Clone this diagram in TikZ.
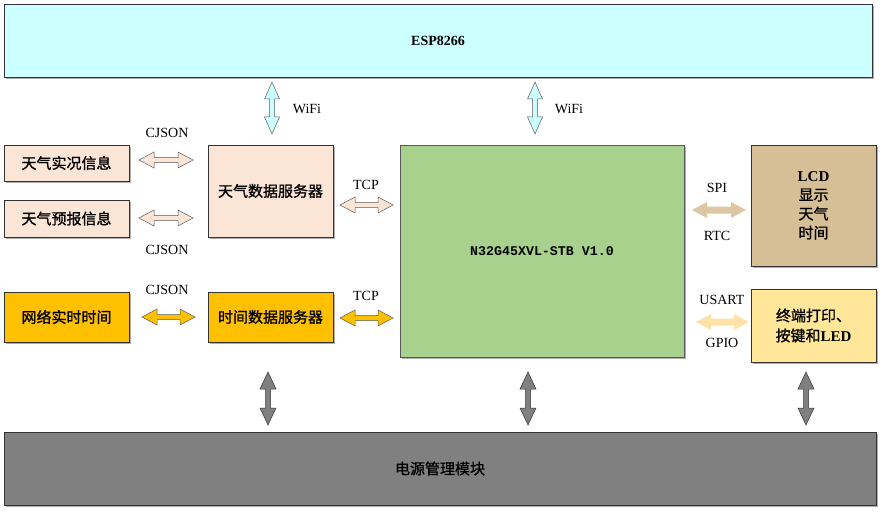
\documentclass[tikz,border=0pt]{standalone}
\usepackage{fontspec}
\setmainfont{Liberation Serif}
\setmonofont{Liberation Mono}
\newfontfamily\cjk[FakeBold=1.2]{Noto Sans CJK SC}
\usetikzlibrary{shadows}
\definecolor{cyanbox}{HTML}{CCFFFF}
\definecolor{peach}{HTML}{FBE5D6}
\definecolor{orangebox}{HTML}{FFC000}
\definecolor{greenbox}{HTML}{A9D18E}
\definecolor{tanbox}{HTML}{D6BE97}
\definecolor{yellowbox}{HTML}{FFE699}
\definecolor{graybox}{HTML}{808080}
\definecolor{spiarrow}{HTML}{DCC7A2}
\definecolor{usartarrow}{HTML}{FFE2A8}
\definecolor{edgegray}{HTML}{595959}
\newcommand\HArrow[6]{% style, x1, x2, y, half width, shaft half width
  \path[#1] (#2,#4) -- (#2+15,#4-#5) -- (#2+15,#4-#6) -- (#3-15,#4-#6) -- (#3-15,#4-#5) -- (#3,#4)
    -- (#3-15,#4+#5) -- (#3-15,#4+#6) -- (#2+15,#4+#6) -- (#2+15,#4+#5) -- cycle;}
\newcommand\VArrow[6]{% style, y1, y2, x, half width, shaft half width
  \path[#1] (#4,#2) -- (#4-#5,#2+17) -- (#4-#6,#2+17) -- (#4-#6,#3-17) -- (#4-#5,#3-17) -- (#4,#3)
    -- (#4+#5,#3-17) -- (#4+#6,#3-17) -- (#4+#6,#2+17) -- (#4+#5,#2+17) -- cycle;}
\begin{document}
\begin{tikzpicture}[x=1pt,y=-1pt,
  box/.style={draw=black!80, line width=0.6pt, inner sep=0pt, align=center,
    drop shadow={shadow xshift=1.8pt, shadow yshift=-1.8pt, fill=black!45, opacity=0.7}},
  cn/.style={font=\cjk\fontsize{15}{19}\selectfont},
  lbl/.style={font=\fontsize{14}{16}\selectfont, inner sep=0pt},
  peacharrow/.style={fill=peach, draw=edgegray, line width=0.5pt},
  orangearrow/.style={fill=orangebox, draw=edgegray, line width=0.5pt},
  cyanarrow/.style={fill=cyanbox, draw=edgegray, line width=0.5pt},
  grayarrow/.style={fill=graybox, draw=black!80, line width=0.5pt},
  ]
\useasboundingbox (0,0) rectangle (885,516);
\fill[white] (0,0) rectangle (885,516);

% boxes
\node[box, fill=cyanbox, minimum width=868pt, minimum height=73pt,
  font=\bfseries\fontsize{14}{16}\selectfont] (esp) at (438,40.5) {ESP8266};
\node[box, cn, fill=peach, minimum width=125pt, minimum height=36pt] (wx1) at (66.5,163) {天气实况信息};
\node[box, cn, fill=peach, minimum width=125pt, minimum height=37pt] (wx2) at (66.5,218.5) {天气预报信息};
\node[box, cn, fill=orangebox, minimum width=125pt, minimum height=50pt] (net) at (66.5,317) {网络实时时间};
\node[box, cn, fill=peach, minimum width=125pt, minimum height=92pt] (wsrv) at (270.5,191) {天气数据服务器};
\node[box, cn, fill=orangebox, minimum width=125pt, minimum height=50pt] (tsrv) at (270.5,317) {时间数据服务器};
\node[box, draw=edgegray, fill=greenbox, minimum width=284pt, minimum height=212pt,
  font=\ttfamily\bfseries\fontsize{13.3}{16}\selectfont] (mcu) at (542,251) {N32G45XVL-STB V1.0};
\node[box, fill=tanbox, minimum width=125pt, minimum height=121pt,
  font=\fontsize{15}{19}\selectfont] (lcd) at (813.5,205.5)
  {\textbf{LCD}\\{\cjk 显示}\\{\cjk 天气}\\{\cjk 时间}};
\node[box, fill=yellowbox, minimum width=125pt, minimum height=73pt,
  font=\fontsize{15}{20}\selectfont] (term) at (813.5,325.5)
  {{\cjk 终端打印、}\\{\cjk 按键和}\textbf{LED}};
\node[box, cn, fill=graybox, minimum width=872pt, minimum height=73pt] (pwr) at (440,468.5) {电源管理模块};

% WiFi arrows
\VArrow{cyanarrow}{82}{134}{272}{7.5}{2.5}
\VArrow{cyanarrow}{82}{134}{535}{7.5}{2.5}
\node[lbl] (wifi1) at (307,109) {WiFi};
\node[lbl] (wifi2) at (569,109) {WiFi};

% CJSON arrows
\HArrow{peacharrow}{139}{193}{160}{8}{2.5}
\HArrow{peacharrow}{139}{193}{218}{8}{2.5}
\HArrow{orangearrow}{142}{195}{317}{8}{2.5}
\node[lbl] (cj1) at (167,133) {CJSON};
\node[lbl] (cj2) at (167,250) {CJSON};
\node[lbl] (cj3) at (167,290) {CJSON};

% TCP arrows
\HArrow{peacharrow}{340}{393}{205}{8}{2.5}
\HArrow{orangearrow}{340}{393}{318}{8}{2.5}
\node[lbl] (tcp1) at (366,185) {TCP};
\node[lbl] (tcp2) at (366,296) {TCP};

% SPI / USART arrows
\HArrow{fill=spiarrow}{692}{746}{210}{8}{3.5}
\HArrow{fill=usartarrow}{696}{749}{322}{8}{3.5}
\node[lbl] (spi) at (717,188) {SPI};
\node[lbl] (rtc) at (717,236) {RTC};
\node[lbl] (usart) at (722,300) {USART};
\node[lbl] (gpio) at (722,343) {GPIO};

% power arrows
\VArrow{grayarrow}{372}{425}{268}{8}{2.5}
\VArrow{grayarrow}{372}{425}{528}{8}{2.5}
\VArrow{grayarrow}{372}{425}{806}{8}{2.5}
\end{tikzpicture}
\end{document}
